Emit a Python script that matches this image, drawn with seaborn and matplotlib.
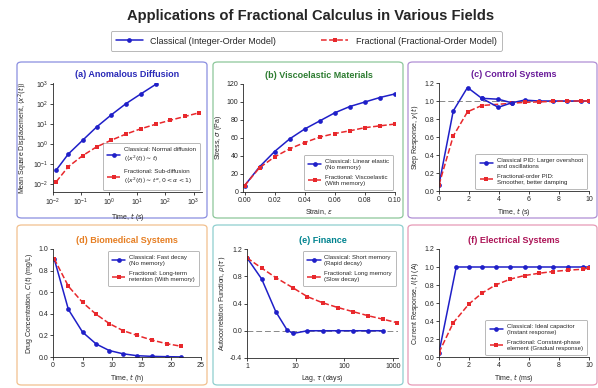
import matplotlib
matplotlib.use('Agg')
import matplotlib.pyplot as plt
import seaborn as sns
import numpy as np
from matplotlib.patches import FancyBboxPatch
from matplotlib.lines import Line2D
from matplotlib.ticker import FuncFormatter, NullLocator

# (a) anomalous diffusion
a_time = [0.013, 0.035, 0.115, 0.36, 1.2, 3.9, 13.2, 45, 151, 513, 1620]
a_classical = [0.05, 0.32, 1.6, 7.4, 30, 107, 330, 1000]
a_fractional = [0.013, 0.074, 0.27, 0.74, 1.6, 3.2, 5.9, 10, 16, 25, 38]

# (b) viscoelastic materials
b_strain = [0.0, 0.01, 0.02, 0.03, 0.04, 0.05, 0.06, 0.07, 0.08, 0.09, 0.10]
b_classical = [7, 28, 45, 59, 70, 79, 88, 95, 100, 105, 109]
b_fractional = [7, 27, 39, 48, 55, 61, 65, 68, 71.5, 73.5, 75.5]

# (c) control systems
c_time = [0, 0.95, 1.9, 2.85, 3.95, 4.85, 5.7, 6.65, 7.6, 8.55, 9.5, 10.0]
c_classical = [0.07, 0.89, 1.15, 1.03, 1.02, 0.98, 1.01, 1.0, 1.0, 1.0, 1.0, 1.0]
c_loop_time = [2.85, 3.95, 4.85]
c_loop = [1.03, 0.93, 0.98]
c_frac_time = [0, 0.95, 1.9, 2.85, 4.85, 5.7, 6.65, 7.6, 8.55, 9.5, 10.0]
c_fractional = [0.07, 0.61, 0.88, 0.95, 0.975, 0.985, 0.99, 0.995, 1.0, 1.0, 1.0]

# (d) biomedical systems
d_time = [0.2, 2.6, 5.0, 7.3, 9.5, 11.8, 14.2, 16.7, 19.2, 21.6]
d_classical = [0.91, 0.44, 0.23, 0.12, 0.06, 0.03, 0.012, 0.006, 0.003, 0.001]
d_fractional = [0.91, 0.655, 0.505, 0.395, 0.31, 0.245, 0.2, 0.157, 0.123, 0.1]

# (e) finance
e_lag_classical = [1.0, 2.0, 3.9, 6.6, 8.8, 17.4, 36, 74, 151, 309, 617]
e_classical = [1.07, 0.76, 0.28, 0.015, -0.04, 0.0, 0.0, 0.0, 0.0, 0.0, 0.0]
e_lag_fractional = [1.0, 2.0, 3.9, 8.8, 17.4, 36, 74, 151, 309, 617, 1175]
e_fractional = [1.07, 0.92, 0.78, 0.63, 0.5, 0.41, 0.34, 0.28, 0.22, 0.17, 0.12]

# (f) electrical systems
f_time_classical = [0, 1.15, 2.0, 2.87, 3.77, 4.75, 5.7, 6.65, 7.6, 8.6, 9.6, 10.0]
f_classical = [0.05, 1.0, 1.0, 1.0, 1.0, 1.0, 1.0, 1.0, 1.0, 1.0, 1.0, 1.0]
f_time_fractional = [0, 0.95, 2.0, 2.87, 3.77, 4.75, 5.7, 6.65, 7.6, 8.6, 9.6, 10.0]
f_fractional = [0.05, 0.38, 0.59, 0.71, 0.8, 0.865, 0.905, 0.93, 0.95, 0.965, 0.975, 0.99]

BLUE = "#1f1fc8"
RED = "#e8282c"
W, H = 598, 388

sns.set_theme(style="ticks")
plt.rcParams['font.family'] = ['Liberation Sans', 'DejaVu Sans']
plt.rcParams['axes.linewidth'] = 0.6
plt.rcParams['xtick.major.width'] = 0.6
plt.rcParams['ytick.major.width'] = 0.6
plt.rcParams['xtick.major.size'] = 2
plt.rcParams['ytick.major.size'] = 2
plt.rcParams['xtick.major.pad'] = 1.5
plt.rcParams['ytick.major.pad'] = 1.5


def px_rect(l, t, r, b):
    return [l / W, 1 - b / H, (r - l) / W, (b - t) / H]


fig = plt.figure(figsize=(5.98, 3.88), dpi=100)

# panel frames
frames = [
    ((17, 62, 207, 218), "#8a8ee0"),
    ((213, 62, 403, 218), "#8cc79a"),
    ((408, 62, 597, 218), "#b08fd4"),
    ((17, 225, 207, 385), "#f2c08e"),
    ((213, 225, 403, 385), "#8fcfcf"),
    ((408, 225, 597, 385), "#e79ab6"),
]
for (l, t, r, b), ec in frames:
    x0, y0, w, h = px_rect(l, t, r, b)
    fig.patches.append(FancyBboxPatch((x0, y0), w, h, boxstyle="round,pad=0,rounding_size=0.008",
                                      transform=fig.transFigure, fc="white", ec=ec, lw=0.9, zorder=-5))

fig.text(0.52, 0.958, "Applications of Fractional Calculus in Various Fields",
         ha="center", va="center", fontsize=10.6, fontweight="bold")


def draw(ax, x1, y1, x2, y2, lab1, lab2, legend_loc):
    ax.set_facecolor("none")
    sns.lineplot(x=x1, y=y1, ax=ax, color=BLUE, marker="o", markersize=3.4, markeredgewidth=0,
                 linewidth=1.1, label=lab1, estimator=None, sort=False)
    sns.lineplot(x=x2, y=y2, ax=ax, color=RED, marker="s", markersize=3.4, markeredgewidth=0,
                 linewidth=1.1, linestyle="--", label=lab2, estimator=None, sort=False)
    leg = ax.legend(loc=legend_loc, fontsize=4.4, frameon=True, handlelength=2.2,
                    borderpad=0.7, labelspacing=0.9, handletextpad=0.6, borderaxespad=0.3)
    leg.get_frame().set_edgecolor("#999999")
    leg.get_frame().set_linewidth(0.6)
    sns.despine(ax=ax)
    ax.tick_params(labelsize=5)


def style(ax, title, color, xlabel, ylabel):
    ax.set_title(title, fontsize=6.5, fontweight="bold", color=color, pad=4)
    ax.set_xlabel(xlabel, fontsize=5, labelpad=2)
    ax.set_ylabel(ylabel, fontsize=5, labelpad=2)


# (a)
ax = fig.add_axes(px_rect(53, 83, 202, 192))
draw(ax, a_time[:len(a_classical)], a_classical, a_time, a_fractional,
     "Classical: Normal diffusion\n" + r"($\langle x^2(t)\rangle \sim t$)",
     "Fractional: Sub-diffusion\n" + r"($\langle x^2(t)\rangle \sim t^{\alpha}$, $0 < \alpha < 1$)",
     "lower right")
ax.set_xscale("log")
ax.set_yscale("log")
ax.set_xlim(0.01, 10 ** 3.3)
ax.set_ylim(10 ** -2.4, 10 ** 3.07)
ax.set_xticks([1e-2, 1e-1, 1e0, 1e1, 1e2, 1e3])
ax.set_yticks([1e-2, 1e-1, 1e0, 1e1, 1e2, 1e3])
ax.xaxis.set_minor_locator(NullLocator())
ax.yaxis.set_minor_locator(NullLocator())
style(ax, "(a) Anomalous Diffusion", "#2a2ab8", r"Time, $t$ (s)",
      r"Mean Square Displacement, $\langle x^2(t)\rangle$")

# (b)
ax = fig.add_axes(px_rect(243, 84, 395, 192))
draw(ax, b_strain, b_classical, b_strain, b_fractional,
     "Classical: Linear elastic\n(No memory)", "Fractional: Viscoelastic\n(With memory)", "lower right")
ax.set_xlim(-0.001, 0.1)
ax.set_ylim(0, 120)
ax.set_xticks([0.0, 0.02, 0.04, 0.06, 0.08, 0.10])
ax.xaxis.set_major_formatter(FuncFormatter(lambda v, p: f"{v:.2f}"))
ax.set_yticks([0, 20, 40, 60, 80, 100, 120])
style(ax, "(b) Viscoelastic Materials", "#2e7d32", r"Strain, $\epsilon$", r"Stress, $\sigma$ (Pa)")

# (c)
ax = fig.add_axes(px_rect(439, 83, 589, 191))
ax.axhline(1.0, color="#888888", lw=0.7, ls=(0, (6, 3)), zorder=0)
draw(ax, c_time, c_classical, c_frac_time, c_fractional,
     "Classical PID: Larger overshoot\nand oscillations", "Fractional-order PID:\nSmoother, better damping",
     "lower right")
ax.plot(c_loop_time, c_loop, color=BLUE, marker="o", markersize=3.4, markeredgewidth=0, lw=1.1)
ax.set_xlim(0, 10)
ax.set_ylim(0, 1.2)
ax.set_xticks([0, 2, 4, 6, 8, 10])
ax.set_yticks([0.0, 0.2, 0.4, 0.6, 0.8, 1.0, 1.2])
ax.yaxis.set_major_formatter(FuncFormatter(lambda v, p: f"{v:.1f}"))
style(ax, "(c) Control Systems", "#6a1b9a", r"Time, $t$ (s)", r"Step Response, $y(t)$")

# (d)
ax = fig.add_axes(px_rect(53, 249, 201, 357))
draw(ax, d_time, d_classical, d_time, d_fractional,
     "Classical: Fast decay\n(No memory)", "Fractional: Long-term\nretention (With memory)", "upper right")
ax.set_xlim(0, 25)
ax.set_ylim(0, 1.0)
ax.set_xticks([0, 5, 10, 15, 20, 25])
ax.set_yticks([0.0, 0.2, 0.4, 0.6, 0.8, 1.0])
ax.yaxis.set_major_formatter(FuncFormatter(lambda v, p: f"{v:.1f}"))
style(ax, "(d) Biomedical Systems", "#e67e22", r"Time, $t$ (h)", r"Drug Concentration, $C(t)$ (mg/L)")

# (e)
ax = fig.add_axes(px_rect(247, 249, 398, 358))
ax.axhline(0.0, color="#888888", lw=0.7, ls=(0, (6, 3)), zorder=0)
draw(ax, e_lag_classical, e_classical, e_lag_fractional, e_fractional,
     "Classical: Short memory\n(Rapid decay)", "Fractional: Long memory\n(Slow decay)", "upper right")
ax.set_xscale("log")
ax.set_xlim(1, 1260)
ax.set_ylim(-0.4, 1.2)
ax.set_xticks([1, 10, 100, 1000])
ax.xaxis.set_minor_locator(NullLocator())
ax.xaxis.set_major_formatter(FuncFormatter(lambda v, p: f"{v:g}"))
ax.set_yticks([-0.4, 0.0, 0.4, 0.8, 1.2])
ax.yaxis.set_major_formatter(FuncFormatter(lambda v, p: f"{v:.1f}"))
style(ax, "(e) Finance", "#00838f", r"Lag, $\tau$ (days)", r"Autocorrelation Function, $\rho(\tau)$")

# (f)
ax = fig.add_axes(px_rect(439, 249, 589, 357))
draw(ax, f_time_classical, f_classical, f_time_fractional, f_fractional,
     "Classical: Ideal capacitor\n(Instant response)", "Fractional: Constant-phase\nelement (Gradual response)",
     "lower right")
ax.set_xlim(0, 10)
ax.set_ylim(0, 1.2)
ax.set_xticks([0, 2, 4, 6, 8, 10])
ax.set_yticks([0.0, 0.2, 0.4, 0.6, 0.8, 1.0, 1.2])
ax.yaxis.set_major_formatter(FuncFormatter(lambda v, p: f"{v:.1f}"))
style(ax, "(f) Electrical Systems", "#ad1457", r"Time, $t$ (ms)", r"Current Response, $I(t)$ (A)")

# shared legend at top
handles = [
    Line2D([], [], color=BLUE, marker="o", markersize=3.4, markeredgewidth=0, lw=1.1),
    Line2D([], [], color=RED, marker="s", markersize=3.4, markeredgewidth=0, lw=1.1, ls="--"),
]
top = fig.legend(handles, ["Classical (Integer-Order Model)", "Fractional (Fractional-Order Model)"],
                 loc="center", bbox_to_anchor=(0.512, 0.894), ncol=2, fontsize=6.5, frameon=True,
                 handlelength=3, columnspacing=5, borderpad=0.6)
top.get_frame().set_edgecolor("#999999")
top.get_frame().set_linewidth(0.6)

fig.savefig("out.png", dpi=100)
